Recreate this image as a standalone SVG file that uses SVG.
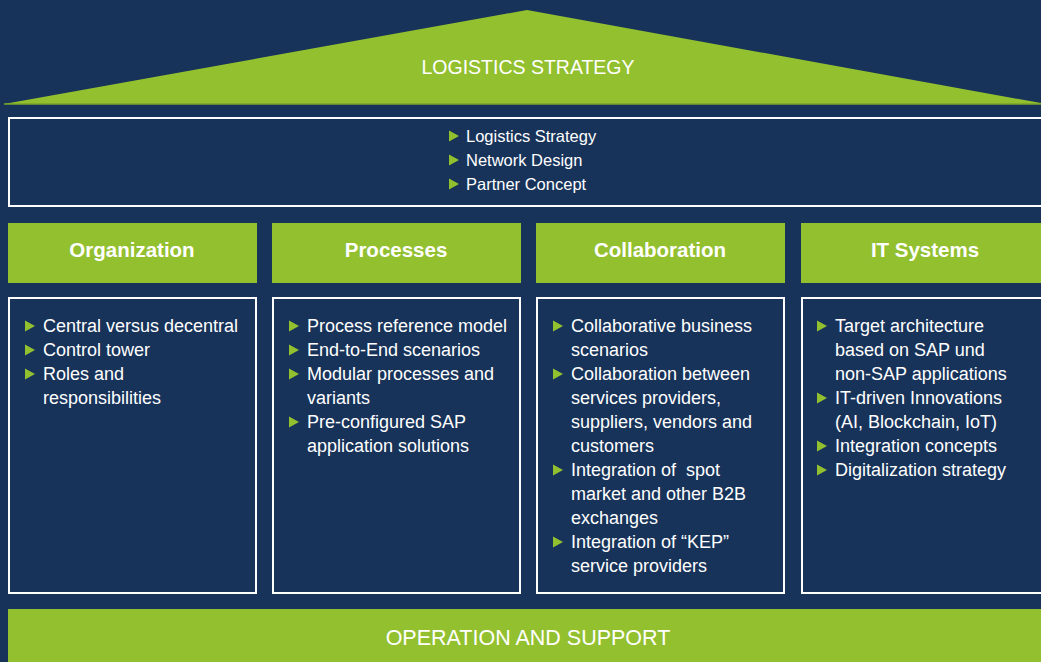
<svg xmlns="http://www.w3.org/2000/svg" xmlns:xlink="http://www.w3.org/1999/xlink" width="1041" height="662" viewBox="0 0 1041 662">
<style>
.bg{fill:#17335a}
.green{fill:#93c02f}
.box{fill:#17335a;stroke:#ffffff;stroke-width:2}
.title{font-family:"Liberation Sans",Arial,sans-serif;fill:#ffffff;font-size:19.5px;text-anchor:middle}
.head{font-family:"Liberation Sans",Arial,sans-serif;fill:#ffffff;font-size:20.5px;font-weight:bold;text-anchor:middle}
.item{font-family:"Liberation Sans",Arial,sans-serif;fill:#ffffff;font-size:18px}
.item16{font-family:"Liberation Sans",Arial,sans-serif;fill:#ffffff;font-size:16.5px}
.tri{fill:#93c02f}
</style>
<defs>
<path id="b" class="tri" d="M0,-5.5 L10,0 L0,5.5 Z"/>
</defs>
<rect class="bg" x="0" y="0" width="1041" height="662"/>
<g id="roof">
<polygon class="green" points="4,104 527,10 1046,104"/>
<line x1="4" y1="104" x2="1041" y2="104" stroke="#7aa52a" stroke-width="1.5"/>
<text class="title" x="528" y="74">LOGISTICS STRATEGY</text>
</g>
<g id="strategy">
<rect class="box" x="9" y="118" width="1040" height="88"/>
<use href="#b" x="449" y="136"/>
<text class="item16" x="466" y="142">Logistics Strategy</text>
<use href="#b" x="449" y="160"/>
<text class="item16" x="466" y="166">Network Design</text>
<use href="#b" x="449" y="184"/>
<text class="item16" x="466" y="190">Partner Concept</text>
</g>
<g id="organization">
<rect class="green" x="8" y="223" width="249" height="60"/>
<text class="head" x="132" y="257">Organization</text>
<rect class="box" x="9" y="298" width="247" height="295"/>
<use href="#b" x="25" y="326"/>
<text class="item" x="43" y="332">Central versus decentral</text>
<use href="#b" x="25" y="350"/>
<text class="item" x="43" y="356">Control tower</text>
<use href="#b" x="25" y="374"/>
<text class="item" x="43" y="380">Roles and</text>
<text class="item" x="43" y="404">responsibilities</text>
</g>
<g id="processes">
<rect class="green" x="272" y="223" width="249" height="60"/>
<text class="head" x="396" y="257">Processes</text>
<rect class="box" x="273" y="298" width="247" height="295"/>
<use href="#b" x="289" y="326"/>
<text class="item" x="307" y="332">Process reference model</text>
<use href="#b" x="289" y="350"/>
<text class="item" x="307" y="356">End-to-End scenarios</text>
<use href="#b" x="289" y="374"/>
<text class="item" x="307" y="380">Modular processes and</text>
<text class="item" x="307" y="404">variants</text>
<use href="#b" x="289" y="422"/>
<text class="item" x="307" y="428">Pre-configured SAP</text>
<text class="item" x="307" y="452">application solutions</text>
</g>
<g id="collaboration">
<rect class="green" x="536" y="223" width="249" height="60"/>
<text class="head" x="660" y="257">Collaboration</text>
<rect class="box" x="537" y="298" width="247" height="295"/>
<use href="#b" x="553" y="326"/>
<text class="item" x="571" y="332">Collaborative business</text>
<text class="item" x="571" y="356">scenarios</text>
<use href="#b" x="553" y="374"/>
<text class="item" x="571" y="380">Collaboration between</text>
<text class="item" x="571" y="404">services providers,</text>
<text class="item" x="571" y="428">suppliers, vendors and</text>
<text class="item" x="571" y="452">customers</text>
<use href="#b" x="553" y="470"/>
<text class="item" x="571" y="476" xml:space="preserve">Integration of  spot</text>
<text class="item" x="571" y="500">market and other B2B</text>
<text class="item" x="571" y="524">exchanges</text>
<use href="#b" x="553" y="542"/>
<text class="item" x="571" y="548">Integration of “KEP”</text>
<text class="item" x="571" y="572">service providers</text>
</g>
<g id="it-systems">
<rect class="green" x="801" y="223" width="250" height="60"/>
<text class="head" x="925" y="257">IT Systems</text>
<rect class="box" x="802" y="298" width="250" height="295"/>
<use href="#b" x="817" y="326"/>
<text class="item" x="835" y="332">Target architecture</text>
<text class="item" x="835" y="356">based on SAP und</text>
<text class="item" x="835" y="380">non-SAP applications</text>
<use href="#b" x="817" y="398"/>
<text class="item" x="835" y="404">IT-driven Innovations</text>
<text class="item" x="835" y="428">(AI, Blockchain, IoT)</text>
<use href="#b" x="817" y="446"/>
<text class="item" x="835" y="452">Integration concepts</text>
<use href="#b" x="817" y="470"/>
<text class="item" x="835" y="476">Digitalization strategy</text>
</g>
<g id="operation">
<rect class="green" x="8" y="609" width="1040" height="60"/>
<text class="title" x="528" y="645" style="font-size:21.5px">OPERATION AND SUPPORT</text>
</g>
<g id="connectors"/>
</svg>
